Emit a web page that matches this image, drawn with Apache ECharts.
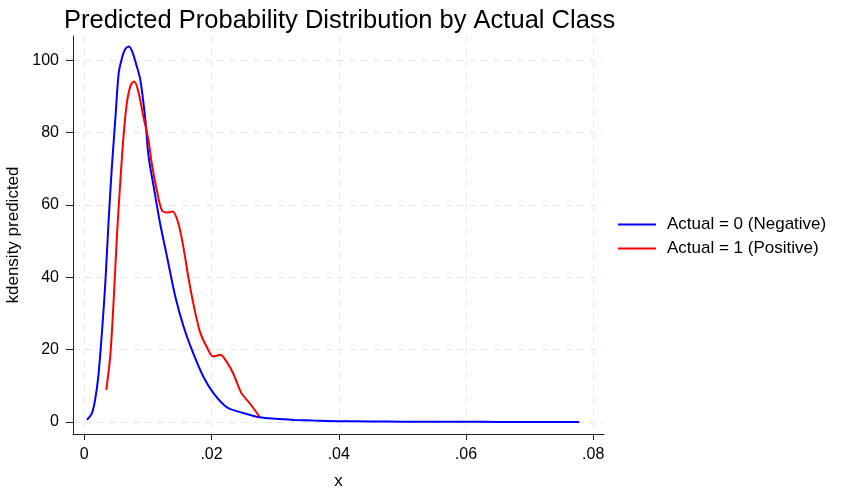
<!DOCTYPE html>
<html>
<head>
<meta charset="utf-8">
<script src="https://cdn.jsdelivr.net/npm/echarts@6/dist/echarts.min.js"></script>
<style>html,body{margin:0;padding:0;background:#fff}#c{width:841px;height:488px}</style>
</head>
<body>
<div id="c"></div>
<script>
// ---- data ----
var titleText = 'Predicted Probability Distribution by Actual Class';
var seriesNames = ['Actual = 0 (Negative)', 'Actual = 1 (Positive)'];
var xTicks = [0, 0.02, 0.04, 0.06, 0.08];
var yTicks = [0, 20, 40, 60, 80, 100];

var negX = [0.0004,0.0012,0.0017,0.0022,0.0028,0.0033,0.0038,0.0043,0.0049,0.0054,0.0059,0.0064,0.0070,0.0075,0.0081,0.0088,0.0096,0.0101,0.0109,0.0119,0.0130,0.0143,0.0156,0.0171,0.0187,0.0203,0.0224,0.0250,0.0276,0.0300,0.0330,0.0360,0.0400,0.0450,0.0500,0.0550,0.0600,0.0650,0.0700,0.0750,0.0778];
var negY = [0.6,2.5,6.2,12.6,25.5,38.4,55,69.7,84.4,96.4,100.5,103,103.8,102.5,99.2,94.6,83.5,73.4,65.1,55,45.7,34.7,26.4,19.1,12.6,8.0,4.1,2.5,1.3,0.9,0.6,0.4,0.25,0.15,0.1,0.08,0.06,0.05,0.04,0.03,0.03];

var posX = [0.00345,0.00407,0.00459,0.00512,0.00564,0.00616,0.00668,0.00731,0.00785,0.0085,0.00929,0.01007,0.0106,0.01138,0.01217,0.01295,0.01389,0.01477,0.01556,0.01634,0.01712,0.01817,0.01921,0.02025,0.0214,0.02235,0.02339,0.0247,0.026,0.0275];
var posY = [8.9,18.1,32.9,51.3,66,78.9,88.1,93.2,94.1,91.3,84.4,78,71.5,64.2,58.6,57.9,58.2,55,48.5,40.2,32.9,25,20.9,18.1,18.6,16.7,13.5,8.0,5.2,1.6];

function zip(a, b) { return a.map(function (v, i) { return [v, b[i]]; }); }

var FONT = '"Liberation Sans", Arial, Helvetica, sans-serif';
var gridLine = { show: true, lineStyle: { color: '#e9e9e9', width: 1, type: [7, 5] } };

var chart = echarts.init(document.getElementById('c'), null, { renderer: 'canvas' });
chart.setOption({
  backgroundColor: '#fff',
  animation: false,
  textStyle: { fontFamily: FONT },
  title: {
    text: titleText, left: 59, top: 3,
    textStyle: { fontFamily: FONT, fontSize: 25.5, fontWeight: 'normal', color: '#000' }
  },
  legend: {
    data: seriesNames, orient: 'vertical', left: 618, top: 216,
    icon: 'rect', itemWidth: 38, itemHeight: 2, itemGap: 7, padding: 0,
    textStyle: { fontFamily: FONT, fontSize: 17, color: '#000', padding: [0, 0, 0, 6] }
  },
  grid: { left: 73, right: 237, top: 36, bottom: 54, containLabel: false, outerBoundsMode: 'none' },
  xAxis: {
    type: 'value', min: -0.00178, max: 0.0817,
    name: 'x', nameLocation: 'middle', nameGap: 39,
    nameTextStyle: { fontFamily: FONT, fontSize: 17, color: '#000' },
    axisLine: { show: true, onZero: false, lineStyle: { color: '#222', width: 1 } },
    axisTick: { show: true, customValues: xTicks, length: 6, lineStyle: { color: '#222' } },
    axisLabel: {
      customValues: xTicks, margin: 13, fontSize: 16, color: '#000', fontFamily: FONT,
      formatter: function (v) { return v === 0 ? '0' : v.toFixed(2).replace(/^0/, ''); }
    },
    splitLine: gridLine
  },
  yAxis: {
    type: 'value', min: -3.3, max: 106.7,
    name: 'kdensity predicted', nameLocation: 'middle', nameGap: 44,
    nameTextStyle: { fontFamily: FONT, fontSize: 17, color: '#000' },
    axisLine: { show: true, onZero: false, lineStyle: { color: '#222', width: 1 } },
    axisTick: { show: true, customValues: yTicks, length: 7, lineStyle: { color: '#222' } },
    axisLabel: { customValues: yTicks, margin: 14, fontSize: 16, color: '#000', fontFamily: FONT },
    splitLine: gridLine
  },
  series: [
    {
      name: seriesNames[0], type: 'line', data: zip(negX, negY),
      smooth: 0.3, symbol: 'none', color: '#0000ff',
      lineStyle: { color: '#0000ff', width: 2 }
    },
    {
      name: seriesNames[1], type: 'line', data: zip(posX, posY),
      smooth: 0.3, symbol: 'none', color: '#ff0000',
      lineStyle: { color: '#ff0000', width: 2 }
    }
  ]
});
</script>
</body>
</html>
